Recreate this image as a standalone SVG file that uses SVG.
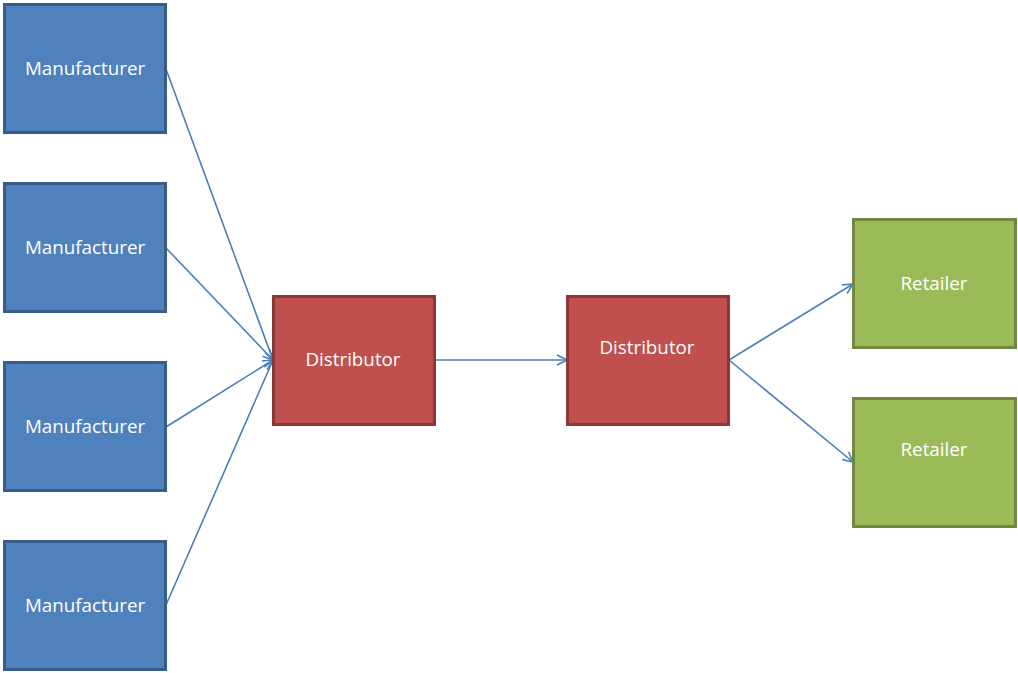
<svg xmlns="http://www.w3.org/2000/svg" width="1018" height="673" viewBox="0 0 1018 673">
  <style>
    .mfr { fill: #4f81bd; stroke: #385d8a; stroke-width: 3; }
    .dst { fill: #c0504d; stroke: #8c3836; stroke-width: 3; }
    .ret { fill: #9bbb59; stroke: #71893f; stroke-width: 3; }
    .lbl { fill: #ffffff; font-family: "Open Sans", "Liberation Sans", sans-serif; font-size: 18.8px; text-anchor: middle; dominant-baseline: central; }
    .conn { stroke: #4a7ebb; stroke-width: 1.6; fill: none; marker-end: url(#arrow); }
  </style>
  <defs>
    <marker id="arrow" markerWidth="12" markerHeight="12" refX="11" refY="6" orient="auto" markerUnits="userSpaceOnUse">
      <path d="M1,1 L11,6 L1,11" fill="none" stroke="#4a7ebb" stroke-width="1.6"/>
    </marker>
  </defs>
  <rect width="1018" height="673" fill="#ffffff"/>

  <g id="connectors">
    <line class="conn" x1="166" y1="69" x2="273" y2="360"/>
    <line class="conn" x1="166" y1="248" x2="273" y2="360"/>
    <line class="conn" x1="166" y1="427" x2="273" y2="360"/>
    <line class="conn" x1="166" y1="605" x2="273" y2="360"/>
    <line class="conn" x1="435" y1="360" x2="567" y2="360"/>
    <line class="conn" x1="729" y1="360" x2="853" y2="284"/>
    <line class="conn" x1="729" y1="360" x2="853" y2="462"/>
  </g>

  <g id="manufacturer1">
    <rect class="mfr" x="4.5" y="4.5" width="161" height="128"/>
    <text class="lbl" x="85" y="68">Manufacturer</text>
  </g>
  <g id="manufacturer2">
    <rect class="mfr" x="4.5" y="183.5" width="161" height="128"/>
    <text class="lbl" x="85" y="247">Manufacturer</text>
  </g>
  <g id="manufacturer3">
    <rect class="mfr" x="4.5" y="362.5" width="161" height="128"/>
    <text class="lbl" x="85" y="426">Manufacturer</text>
  </g>
  <g id="manufacturer4">
    <rect class="mfr" x="4.5" y="541.5" width="161" height="128"/>
    <text class="lbl" x="85" y="605">Manufacturer</text>
  </g>

  <g id="distributor1">
    <rect class="dst" x="273.5" y="296.5" width="161" height="128"/>
    <text class="lbl" x="353" y="359">Distributor</text>
  </g>
  <g id="distributor2">
    <rect class="dst" x="567.5" y="296.5" width="161" height="128"/>
    <text class="lbl" x="647" y="347">Distributor</text>
  </g>

  <g id="retailer1">
    <rect class="ret" x="853.5" y="219.5" width="162" height="128"/>
    <text class="lbl" x="934" y="283">Retailer</text>
  </g>
  <g id="retailer2">
    <rect class="ret" x="853.5" y="398.5" width="162" height="128"/>
    <text class="lbl" x="934" y="449">Retailer</text>
  </g>
</svg>
